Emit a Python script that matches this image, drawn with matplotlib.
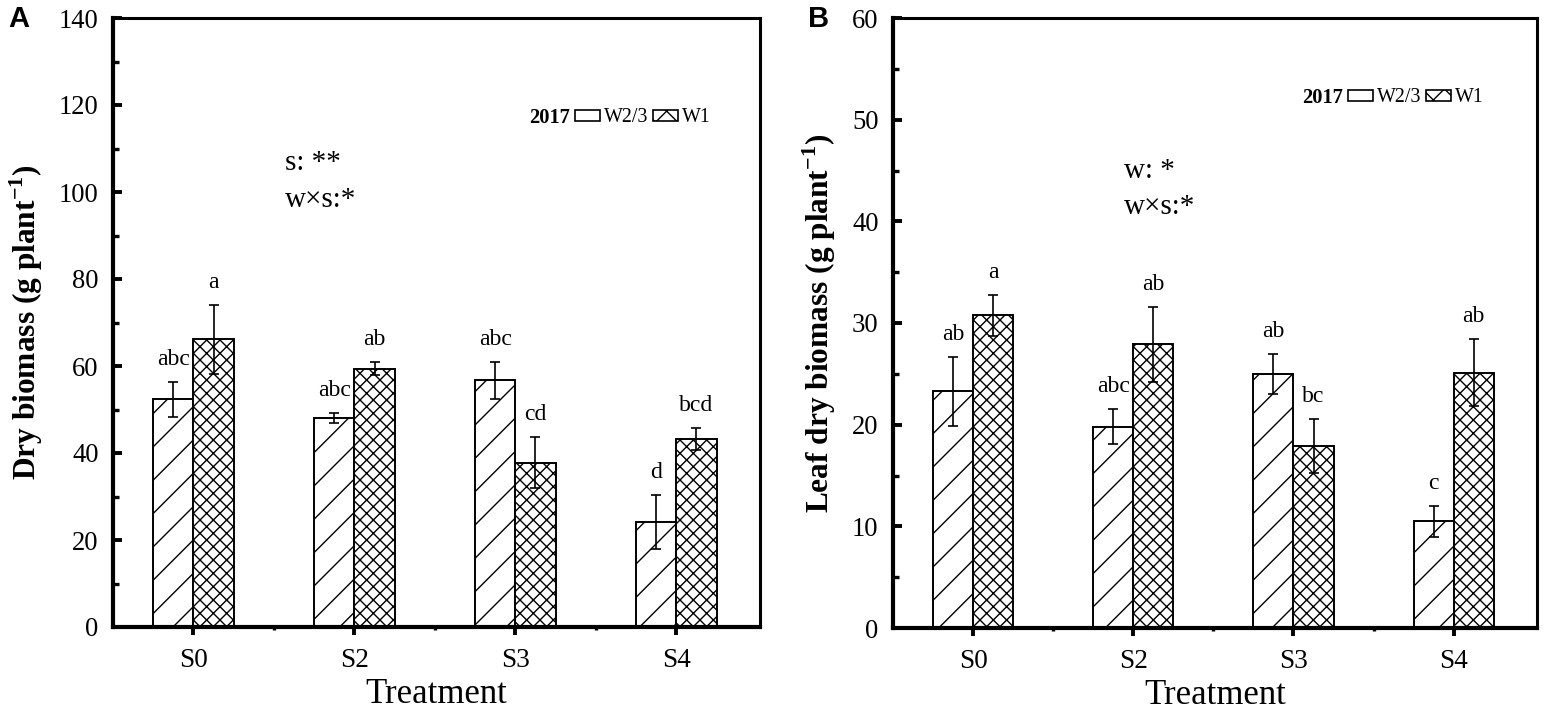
import matplotlib
matplotlib.use("Agg")
import matplotlib.pyplot as plt
from matplotlib.patches import Patch
import numpy as np

# ---------------- data ----------------
treatments = ['S0', 'S2', 'S3', 'S4']

a_w23 = [52.3, 48.0, 56.7, 24.1]
a_w23_err = [4.0, 1.2, 4.2, 6.2]
a_w1 = [66.1, 59.4, 37.8, 43.2]
a_w1_err = [7.9, 1.5, 5.8, 2.6]
a_w23_letters = ['abc', 'abc', 'abc', 'd']
a_w1_letters = ['a', 'ab', 'cd', 'bcd']

b_w23 = [23.3, 19.8, 25.0, 10.5]
b_w23_err = [3.4, 1.75, 2.0, 1.5]
b_w1 = [30.75, 27.9, 17.9, 25.1]
b_w1_err = [2.0, 3.7, 2.7, 3.3]
b_w23_letters = ['ab', 'abc', 'ab', 'c']
b_w1_letters = ['a', 'ab', 'bc', 'ab']

series_labels = ['W2/3', 'W1']
legend_year = '2017'

# ---------------- style ----------------
plt.rcParams['font.family'] = ['Liberation Serif', 'DejaVu Serif']
plt.rcParams['mathtext.fontset'] = 'custom'
plt.rcParams['mathtext.rm'] = 'Liberation Serif'
plt.rcParams['mathtext.bf'] = 'Liberation Serif:bold'
plt.rcParams['hatch.linewidth'] = 0.5

DPI = 200
fig = plt.figure(figsize=(1547 / DPI, 710 / DPI), dpi=DPI)

ax_a = fig.add_axes([113 / 1547, 83 / 710, (760 - 113) / 1547, (627 - 18) / 710])
ax_b = fig.add_axes([893 / 1547, 82 / 710, (1537 - 893) / 1547, (628 - 18) / 710])


def draw_panel(ax, w23, w23e, w1, w1e, l23, l1, ymax, ymajor, yminor, ylabel,
               notes, note_x, note_ys, leg_xy):
    x = np.arange(1, len(treatments) + 1)
    width = 0.25
    ax.bar(x - width / 2, w23, width, facecolor='white', edgecolor='black',
           linewidth=0.7, hatch='//', zorder=2)
    ax.bar(x + width / 2, w1, width, facecolor='white', edgecolor='black',
           linewidth=0.7, hatch='xxxxx', zorder=2)
    ax.errorbar(x - width / 2, w23, yerr=w23e, fmt='none', ecolor='black',
                elinewidth=0.6, capsize=1.8, capthick=0.6, zorder=3)
    ax.errorbar(x + width / 2, w1, yerr=w1e, fmt='none', ecolor='black',
                elinewidth=0.6, capsize=1.8, capthick=0.6, zorder=3)
    for xi, v, e, lab in zip(x - width / 2, w23, w23e, l23):
        ax.annotate(lab, (xi, v + e), xytext=(0, 4.3), textcoords='offset points',
                    ha='center', va='bottom', fontsize=8.5)
    for xi, v, e, lab in zip(x + width / 2, w1, w1e, l1):
        ax.annotate(lab, (xi, v + e), xytext=(0, 4.3), textcoords='offset points',
                    ha='center', va='bottom', fontsize=8.5)

    ax.set_xlim(0.5, 4.52)
    ax.set_ylim(0, ymax)
    ax.set_xticks(x)
    ax.set_xticklabels(treatments)
    ax.set_xticks([1.5, 2.5, 3.5], minor=True)
    ax.set_yticks(np.arange(0, ymax + 0.1, ymajor))
    ax.set_yticks(np.arange(yminor, ymax, ymajor), minor=True)

    ax.tick_params(axis='y', which='major', direction='in', length=3.2, width=1.4,
                   labelsize=9.6, pad=5.2)
    ax.tick_params(axis='y', which='minor', direction='in', length=2.0, width=1.2)
    ax.tick_params(axis='x', which='major', direction='out', length=3.0, width=1.4,
                   labelsize=9.8, pad=4.5)
    ax.tick_params(axis='x', which='minor', direction='out', length=1.2, width=1.2)

    for side in ['left', 'bottom']:
        ax.spines[side].set_linewidth(1.5)
    for side in ['top', 'right']:
        ax.spines[side].set_linewidth(1.1)

    ax.set_xlabel('Treatment', fontsize=12.5, labelpad=2)
    ax.set_ylabel(ylabel, fontsize=11.3, fontweight='bold', labelpad=5)

    for note, ny in zip(notes, note_ys):
        ax.text(note_x, ny, note, fontsize=10.5, ha='left', va='center')

    handles = [Patch(facecolor='white', edgecolor='black', linewidth=0.6),
               Patch(facecolor='white', edgecolor='black', linewidth=0.6, hatch='xxx')]
    ax.legend(handles, series_labels, loc='center left', bbox_to_anchor=leg_xy,
              ncol=2, frameon=False, fontsize=7.2, handlelength=1.25,
              handleheight=0.5, handletextpad=0.2, columnspacing=0.25,
              borderpad=0, borderaxespad=0)
    ax.text(leg_xy[0] - 0.008, leg_xy[1], legend_year, transform=ax.transAxes,
            fontsize=7.4, fontweight='bold', ha='right', va='center')


draw_panel(ax_a, a_w23, a_w23_err, a_w1, a_w1_err, a_w23_letters, a_w1_letters,
           140, 20, 10, r'Dry biomass (g plant$^{\mathbf{-1}}$)',
           ['s: **', 'w×s:*'], 1.57, [106.7, 98.2], (0.714, 0.836))
draw_panel(ax_b, b_w23, b_w23_err, b_w1, b_w1_err, b_w23_letters, b_w1_letters,
           60, 10, 5, r'Leaf dry biomass (g plant$^{\mathbf{-1}}$)',
           ['w: *', 'w×s:*'], 1.94, [45.0, 41.4], (0.7065, 0.869))

fig.text(8 / 1547, 1 - 5 / 710, 'A', fontsize=10.5, fontweight='bold',
         family='Liberation Sans', ha='left', va='top')
fig.text(808 / 1547, 1 - 5 / 710, 'B', fontsize=10.5, fontweight='bold',
         family='Liberation Sans', ha='left', va='top')

fig.savefig('out.png', dpi=DPI)
